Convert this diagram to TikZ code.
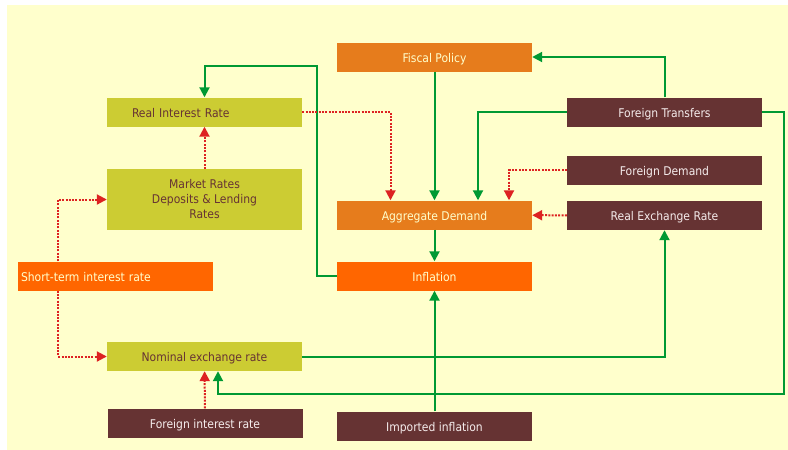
\documentclass[tikz,border=0pt]{standalone}
\usepackage{fontspec}
\setmainfont{DejaVu Sans Condensed}
\usetikzlibrary{arrows.meta}

\definecolor{bgyellow}{HTML}{FFFFCC}
\definecolor{olive}{HTML}{CCCC33}
\definecolor{darkorange}{HTML}{E67C1C}
\definecolor{brightorange}{HTML}{FF6600}
\definecolor{maroon}{HTML}{663333}
\definecolor{linegreen}{HTML}{009933}
\definecolor{linered}{HTML}{DD2222}
\definecolor{paletext}{HTML}{F5ECEC}

\begin{document}
\begin{tikzpicture}[x=1pt,y=-1pt,
    box/.style={inner sep=0pt,minimum width=195pt,minimum height=29pt,text height=12.5pt,text depth=2pt,font=\fontsize{12}{15}\selectfont},
    olivebox/.style={box,fill=olive,text=maroon},
    orangebox/.style={box,fill=darkorange,text=bgyellow},
    hotbox/.style={box,fill=brightorange,text=bgyellow},
    brownbox/.style={box,fill=maroon,text=paletext},
    greenarrow/.style={draw=linegreen,line width=2pt,-{Triangle[length=10pt,width=10pt]}},
    redarrow/.style={draw=linered,line width=2pt,dash pattern=on 2pt off 1.3pt,-{Triangle[length=10pt,width=10pt]}}]
    \useasboundingbox[fill=white] (0,0) rectangle (788,450);
    \fill[bgyellow] (7,5) rectangle (788,450);
    \node[orangebox] (fiscal) at (434.5,57) {Fiscal Policy};
    \node[olivebox,text width=145pt,align=left] (realint) at (204.5,112) {Real Interest Rate};
    \node[olivebox,minimum height=61pt,text height=,text depth=,align=center] (market) at (204.5,199.5) {Market Rates\\Deposits \& Lending\\Rates};
    \node[orangebox] (aggdem) at (434.5,215) {Aggregate Demand};
    \node[brownbox] (transfers) at (664.5,112) {Foreign Transfers};
    \node[brownbox] (fordem) at (664.5,170) {Foreign Demand};
    \node[brownbox] (realexch) at (664.5,215.5) {Real Exchange Rate};
    \node[hotbox,text width=188pt,align=left] (shortrate) at (115,276) {Short-term interest rate};
    \node[hotbox] (inflation) at (434.5,276) {Inflation};
    \node[olivebox] (nominal) at (204.5,356.5) {Nominal exchange rate};
    \node[brownbox] (forint) at (205,423) {Foreign interest rate};
    \node[brownbox] (imported) at (434.5,426) {Imported inflation};
    \draw[greenarrow] (inflation.west) -| (317,66) -| (realint.north);
    \draw[greenarrow] (fiscal) -- (aggdem);
    \draw[greenarrow] (transfers.north) |- (fiscal.east);
    \draw[greenarrow] (transfers.west) -| ([xshift=43.5pt]aggdem.north);
    \draw[greenarrow] (transfers.east) -| (784,394) -| ([xshift=13.5pt]nominal.south);
    \draw[greenarrow] (nominal.east) -| (realexch.south);
    \draw[greenarrow] (aggdem) -- (inflation);
    \draw[greenarrow] (imported) -- (inflation);
    \draw[redarrow] (realint.east) -| ([xshift=-44pt]aggdem.north);
    \draw[redarrow] (market) -- (realint);
    \draw[redarrow] ([xshift=-57pt]shortrate.north) |- (market.west);
    \draw[redarrow] ([xshift=-57pt]shortrate.south) |- (nominal.west);
    \draw[redarrow] (fordem.west) -| ([xshift=74.5pt]aggdem.north);
    \draw[redarrow] (realexch) -- (aggdem);
    \draw[redarrow] (forint) -- (nominal);
\end{tikzpicture}
\end{document}
